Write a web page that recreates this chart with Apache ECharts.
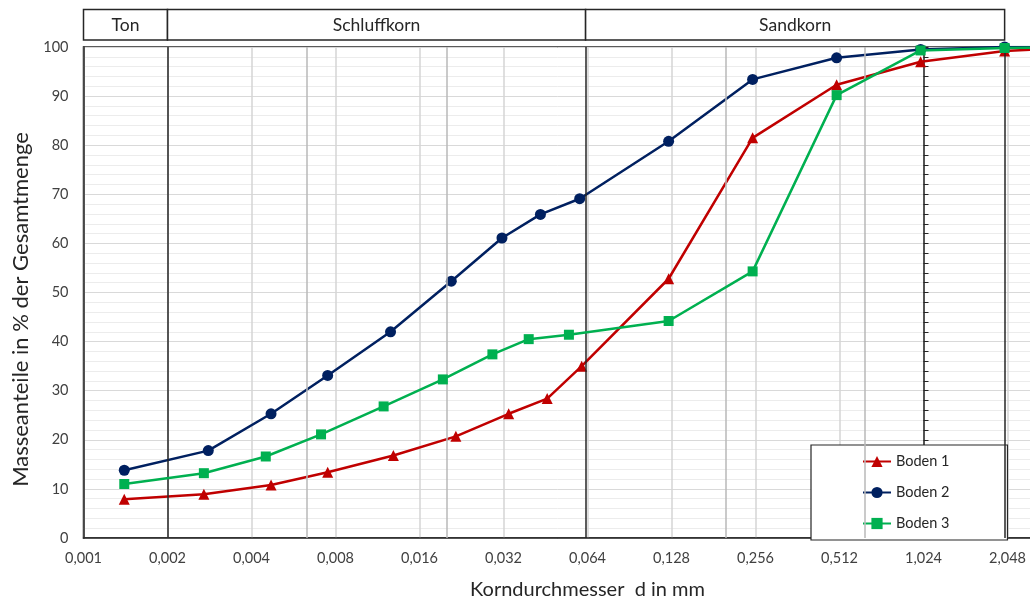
<!DOCTYPE html>
<html>
<head>
<meta charset="utf-8">
<script src="https://cdn.jsdelivr.net/npm/echarts@6/dist/echarts.min.js"></script>
<style>
  html, body { margin: 0; padding: 0; background: #ffffff; }
  #chart { width: 1030px; height: 606px; }
</style>
</head>
<body>
<div id="chart"></div>
<script>
// Körnungslinien dreier Böden: Korndurchmesser d in mm, Siebdurchgang in % der Gesamtmenge
const seriesNames = ['Boden 1', 'Boden 2', 'Boden 3'];

const boden1D = [0.0014, 0.0027, 0.0047, 0.0075, 0.0129, 0.0216, 0.0334, 0.0459, 0.061, 0.125, 0.25, 0.5, 1.0, 2.0, 4.0];
const boden1P = [7.9, 8.9, 10.8, 13.4, 16.8, 20.7, 25.3, 28.4, 35.0, 52.8, 81.5, 92.3, 97.0, 99.2, 100];

const boden2D = [0.0014, 0.0028, 0.0047, 0.0075, 0.0126, 0.0208, 0.0316, 0.0434, 0.060, 0.125, 0.25, 0.5, 1.0, 2.0, 4.0];
const boden2P = [13.8, 17.8, 25.3, 33.1, 42.0, 52.3, 61.1, 65.9, 69.1, 80.8, 93.4, 97.8, 99.5, 100, 100];

const boden3D = [0.0014, 0.0027, 0.0045, 0.0071, 0.0119, 0.0194, 0.0292, 0.0394, 0.0549, 0.125, 0.25, 0.5, 1.0, 2.0, 4.0];
const boden3P = [11.0, 13.2, 16.6, 21.1, 26.8, 32.3, 37.4, 40.5, 41.4, 44.2, 54.3, 90.2, 99.3, 99.8, 100];

// Bodenarten-Grenzen (mm): Haupt- und Untergruppen
const grenzenHaupt = [0.002, 0.063, 2.0];
const grenzenUnter = [0.0063, 0.02, 0.2, 0.63];

// Kopfzeile mit den Kornfraktionen: Name, von, bis (mm)
const fraktionNamen = ['Ton', 'Schluffkorn', 'Sandkorn'];
const fraktionVon = [0.001, 0.002, 0.063];
const fraktionBis = [0.002, 0.063, 2.0];

// x-Achse in Mikrometern (log2), Beschriftung in mm
const xMinMm = 0.001;
const xMaxMm = 4.096;

const FONT = 'Lato, "Open Sans", sans-serif';
const TEXT = '#404040';
const DARK = '#262626';
const colors = ['#C00000', '#002060', '#00B050'];
const symbols = ['triangle', 'circle', 'rect'];
const symbolSizes = [11, 11, 10];

const um = d => d * 1000;
const pairs = (ds, ps) => ds.map((d, i) => [um(d), ps[i]]);
const seriesData = [pairs(boden1D, boden1P), pairs(boden2D, boden2P), pairs(boden3D, boden3P)];

const chart = echarts.init(document.getElementById('chart'), null, { renderer: 'canvas' });

const lineSeries = seriesNames.map((name, i) => ({
  name: name,
  type: 'line',
  data: seriesData[i],
  symbol: symbols[i],
  symbolSize: symbolSizes[i],
  showSymbol: true,
  lineStyle: { color: colors[i], width: 2.5 },
  itemStyle: { color: colors[i], borderWidth: 0 },
  z: 3 + i
}));

const boundarySeries = {
  name: 'Grenzen',
  type: 'line',
  data: [],
  z: 1,
  silent: true,
  markLine: {
    silent: true,
    symbol: 'none',
    animation: false,
    label: { show: false },
    data: [
      ...grenzenUnter.map(d => ({ xAxis: um(d), lineStyle: { color: '#b8b8b8', width: 1.5, type: 'solid' } })),
      ...grenzenHaupt.map(d => ({ xAxis: um(d), lineStyle: { color: DARK, width: 1.5, type: 'solid' } }))
    ]
  }
};

const option = {
  animation: false,
  backgroundColor: '#ffffff',
  textStyle: { fontFamily: FONT },
  grid: {
    left: 83.5, top: 47, bottom: 68, right: -61.5,
    outerBoundsMode: 'none',
    show: true, borderColor: DARK, borderWidth: 1.5, containLabel: false
  },
  legend: {
    data: seriesNames,
    orient: 'vertical',
    left: 811, top: 445,
    padding: [9, 58, 9, 51],
    itemGap: 16,
    itemWidth: 28, itemHeight: 14,
    backgroundColor: '#ffffff',
    borderColor: DARK, borderWidth: 1.2,
    textStyle: { fontFamily: FONT, fontSize: 14.5, color: DARK }
  },
  xAxis: {
    type: 'log',
    logBase: 2,
    min: um(xMinMm),
    max: um(xMaxMm),
    splitNumber: 12,
    interval: 1,
    axisLine: { show: true, lineStyle: { color: DARK, width: 1.5 } },
    axisTick: { show: false },
    axisLabel: {
      fontFamily: FONT, fontSize: 14.5, color: TEXT, margin: 13,
      showMinLabel: true, showMaxLabel: true, interval: 0,
      formatter: v => (v / 1000).toFixed(3).replace('.', ',')
    },
    splitLine: { show: true, interval: 0, lineStyle: { color: '#d4d4d4', width: 1.5 } },
    name: 'Korndurchmesser  d in mm',
    nameLocation: 'middle',
    nameGap: 42,
    nameTextStyle: { fontFamily: FONT, fontSize: 20, color: DARK }
  },
  yAxis: [{
    type: 'value',
    min: 0, max: 100, interval: 10,
    axisLine: { show: true, lineStyle: { color: DARK, width: 1.5 } },
    axisTick: { show: false },
    axisLabel: { fontFamily: FONT, fontSize: 14.5, color: TEXT, margin: 15 },
    splitLine: { show: true, lineStyle: { color: '#d9d9d9', width: 1 } },
    minorTick: { show: false, splitNumber: 5 },
    minorSplitLine: { show: true, lineStyle: { color: '#ececec', width: 1 } },
    name: 'Masseanteile in % der Gesamtmenge',
    nameLocation: 'middle',
    nameGap: 50,
    nameTextStyle: { fontFamily: FONT, fontSize: 22, color: DARK, padding: [0, 34, 0, 0] }
  }, {
    // Hilfsskala bei d = 1,024 mm
    type: 'value',
    min: 0, max: 100, interval: 10,
    position: 'right',
    offset: -168,
    axisLine: { show: true, lineStyle: { color: DARK, width: 1.5 } },
    axisTick: { show: true, length: 5, lineStyle: { color: DARK, width: 1 } },
    minorTick: { show: true, splitNumber: 5, length: 5, lineStyle: { color: DARK, width: 1 } },
    axisLabel: { show: false },
    splitLine: { show: false }
  }],
  series: [boundarySeries, ...lineSeries]
};

chart.setOption(option);

// Kopfzeile mit den Fraktionsfeldern über der Zeichenfläche
const px = d => chart.convertToPixel({ xAxisIndex: 0 }, um(d));
const headTop = 9.5, headBottom = 40;
const headerElements = [];
fraktionNamen.forEach((name, i) => {
  const x0 = px(fraktionVon[i]);
  const x1 = px(fraktionBis[i]);
  headerElements.push({
    type: 'rect',
    shape: { x: x0, y: headTop, width: x1 - x0, height: headBottom - headTop },
    style: { fill: '#ffffff', stroke: DARK, lineWidth: 1.5 },
    silent: true
  });
  headerElements.push({
    type: 'text',
    x: (x0 + x1) / 2, y: (headTop + headBottom) / 2 + 1,
    style: {
      text: name, fill: DARK, font: '17.5px ' + FONT,
      textAlign: 'center', textVerticalAlign: 'middle'
    },
    silent: true
  });
});
chart.setOption({ graphic: headerElements });
</script>
</body>
</html>
